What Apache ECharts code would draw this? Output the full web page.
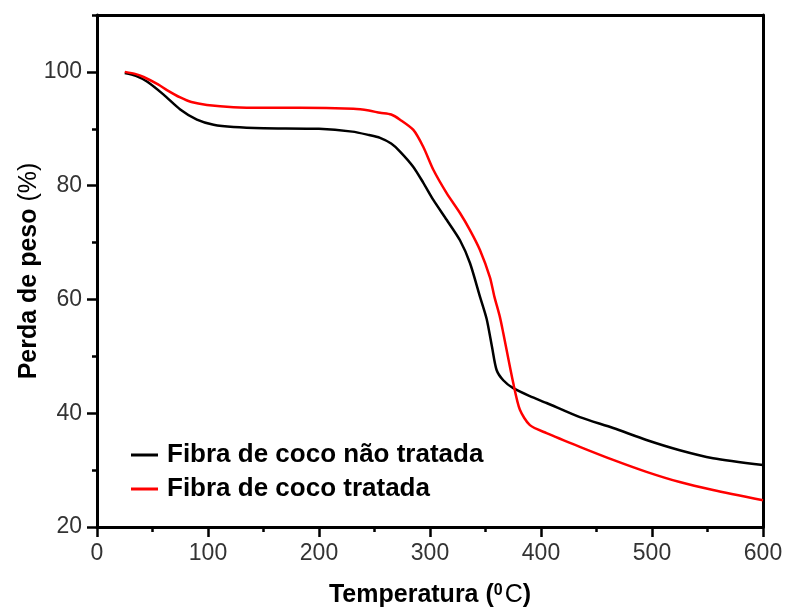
<!DOCTYPE html>
<html>
<head>
<meta charset="utf-8">
<script src="https://cdn.jsdelivr.net/npm/echarts@6/dist/echarts.min.js"></script>
<style>html,body{margin:0;padding:0;background:#fff}#c{width:788px;height:614px}</style>
</head>
<body>
<div id="c"></div>
<script>
const seriesNames = ['Fibra de coco não tratada', 'Fibra de coco tratada'];
const tempUntreated = [25, 35, 45, 60, 75, 90, 105, 123, 150, 200, 230, 245, 255, 265, 273, 285, 294, 303, 315, 327, 336, 345, 351, 356, 360, 366, 375, 390, 405, 435, 465, 495, 525, 555, 600];
const massUntreated = [99.8, 99.3, 98.3, 96.0, 93.4, 91.6, 90.7, 90.3, 90.1, 90.0, 89.5, 88.9, 88.4, 87.4, 86.0, 83.3, 80.5, 77.5, 74.0, 70.4, 66.4, 60.5, 56.6, 51.5, 47.6, 45.8, 44.4, 43.0, 41.8, 39.3, 37.4, 35.3, 33.5, 32.1, 30.9];
const tempTreated = [25, 35, 42, 55, 63, 75, 85, 99, 123, 150, 183, 231, 245, 255, 265, 273, 285, 294, 303, 315, 327, 336, 345, 354, 358, 363, 366, 375, 381, 390, 405, 435, 465, 495, 525, 555, 600];
const massTreated = [100.0, 99.6, 99.1, 97.8, 96.8, 95.5, 94.7, 94.2, 93.8, 93.7, 93.7, 93.5, 93.2, 92.8, 92.5, 91.6, 89.8, 86.8, 82.8, 78.7, 75.2, 72.2, 68.7, 63.9, 60.5, 56.9, 54.1, 45.3, 40.6, 37.9, 36.5, 34.1, 31.8, 29.7, 27.9, 26.5, 24.7];
const yTickLabels = [20, 40, 60, 80, 100];
const xTickLabels = [0, 100, 200, 300, 400, 500, 600];

const font = 'Liberation Sans, Arial, sans-serif';
const pair = (xs, ys) => xs.map((x, i) => [x, ys[i]]);
const chart = echarts.init(document.getElementById('c'));
chart.setOption({
  animation: false,
  backgroundColor: '#fff',
  grid: { left: 97, top: 15, right: 25, bottom: 87, containLabel: false },
  legend: {
    left: 126, top: 437, orient: 'vertical', icon: 'rect',
    itemWidth: 27, itemHeight: 3, itemGap: 8,
    textStyle: { fontFamily: font, fontWeight: 'bold', fontSize: 26, lineHeight: 26, color: '#000', padding: [0, 0, 0, 4] },
    data: seriesNames
  },
  xAxis: [{
    type: 'value', min: 0, max: 600, interval: 100, position: 'bottom',
    name: 'Temperatura ({sup|0}{c|C})', nameLocation: 'middle', nameGap: 56, nameMoveOverlap: false,
    nameTextStyle: { fontFamily: font, fontWeight: 'bold', fontSize: 25, color: '#000',
      rich: { sup: { fontFamily: font, fontWeight: 'bold', fontSize: 16, verticalAlign: 'top', padding: [0,2,8,0] }, c: { fontFamily: font, fontSize: 25, fontWeight: 'normal', color: '#000' } } },
    axisLine: { lineStyle: { color: '#000', width: 3 } },
    axisTick: { inside: false, length: 10, lineStyle: { color: '#000', width: 2.5 }, customValues: xTickLabels },
    minorTick: { show: true, splitNumber: 2, length: 5, lineStyle: { color: '#000', width: 2.5 } },
    axisLabel: { fontFamily: font, fontSize: 23, color: '#333', margin: 15, customValues: xTickLabels },
    splitLine: { show: false }
  }, {
    type: 'value', min: 0, max: 600, position: 'top',
    axisLine: { show: true, lineStyle: { color: '#000', width: 3 } },
    axisTick: { show: false }, axisLabel: { show: false }, splitLine: { show: false }
  }],
  yAxis: [{
    type: 'value', min: 20, max: 110, interval: 10, position: 'left',
    axisLine: { show: true, lineStyle: { color: '#000', width: 3 } },
    axisTick: { show: true, length: 5, lineStyle: { color: '#000', width: 2.5 } },
    axisLabel: { show: false }, splitLine: { show: false }
  }, {
    type: 'value', min: 20, max: 110, position: 'left',
    name: 'Perda de peso {p|(%)}', nameLocation: 'middle', nameGap: 55, nameMoveOverlap: false,
    nameTextStyle: { fontFamily: font, fontWeight: 'bold', fontSize: 25, color: '#000',
      rich: { p: { fontFamily: font, fontWeight: 'normal', fontSize: 25, color: '#000' } } },
    axisLine: { show: false },
    axisTick: { show: true, length: 10, lineStyle: { color: '#000', width: 2.5 }, customValues: yTickLabels },
    axisLabel: { fontFamily: font, fontSize: 23, color: '#333', margin: 15, customValues: yTickLabels },
    splitLine: { show: false }
  }, {
    type: 'value', min: 20, max: 110, position: 'right',
    axisLine: { show: true, lineStyle: { color: '#000', width: 3 } },
    axisTick: { show: false }, axisLabel: { show: false }, splitLine: { show: false }
  }],
  series: [{
    name: seriesNames[0], type: 'line', xAxisIndex: 0, yAxisIndex: 0, data: pair(tempUntreated, massUntreated),
    showSymbol: false, smooth: 0.25, lineStyle: { color: '#000', width: 2.5 }, itemStyle: { color: '#000' }
  }, {
    name: seriesNames[1], type: 'line', xAxisIndex: 0, yAxisIndex: 0, data: pair(tempTreated, massTreated),
    showSymbol: false, smooth: 0.25, lineStyle: { color: '#ff0000', width: 2.5 }, itemStyle: { color: '#ff0000' }
  }]
});
</script>
</body>
</html>
